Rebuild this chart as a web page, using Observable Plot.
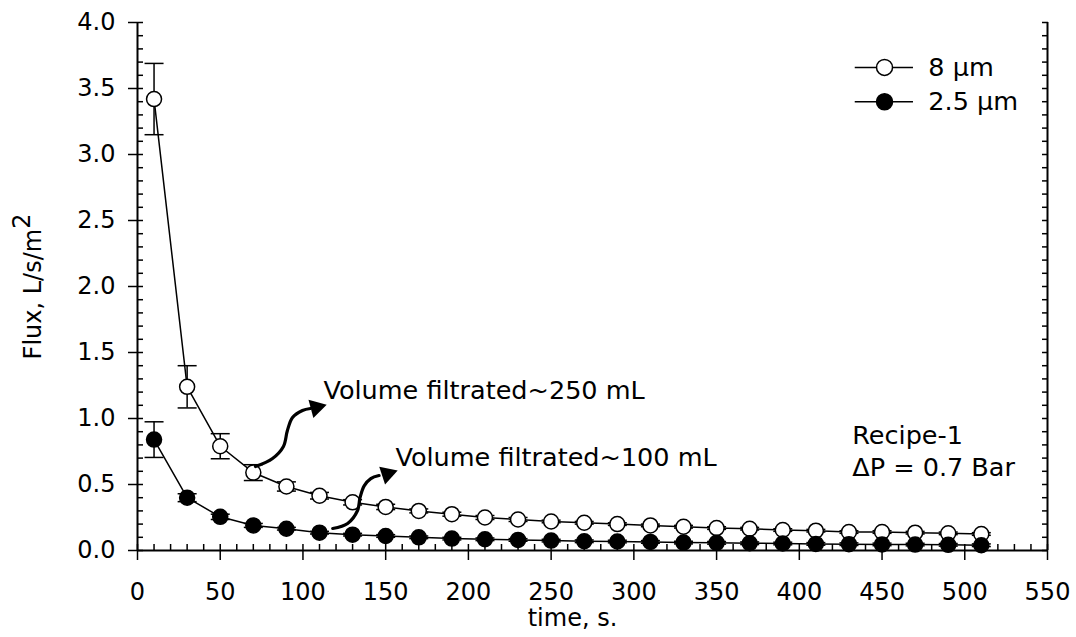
<!DOCTYPE html>
<html><head><meta charset="utf-8">
<script src="https://cdn.jsdelivr.net/npm/d3@7"></script>
<script src="https://cdn.jsdelivr.net/npm/@observablehq/plot@0.6"></script>
<style>body{margin:0;background:#fff} svg{font-family:"DejaVu Sans"}</style>
</head><body><div id="chart"></div>
<script>
const times = [10,30,50,70,90,110,130,150,170,190,210,230,250,270,290,310,330,350,370,390,410,430,450,470,490,510];
const flux8 = [3.42,1.24,0.79,0.59,0.485,0.415,0.365,0.33,0.30,0.275,0.25,0.235,0.22,0.21,0.20,0.19,0.18,0.17,0.165,0.155,0.15,0.14,0.14,0.135,0.13,0.125];
const err8 = [0.27,0.16,0.095,0.06,0.035,0.025,0.02,0.02,0.015,0.015,0.015,0.015,0.01,0.01,0.01,0.01,0.01,0.01,0.01,0.01,0.01,0.01,0.01,0.01,0.01,0.01];
const flux25 = [0.84,0.40,0.255,0.19,0.165,0.135,0.12,0.11,0.10,0.09,0.085,0.08,0.075,0.07,0.068,0.065,0.06,0.058,0.055,0.053,0.05,0.048,0.046,0.045,0.043,0.04];
const err25 = [0.135,0.03,0.02,0.015,0.01,0.01,0.01,0.01,0.01,0.01,0.01,0.01,0.01,0.01,0.01,0.01,0.01,0.01,0.01,0.01,0.01,0.01,0.01,0.01,0.01,0.01];
const seriesNames = ["8 µm","2.5 µm"];
const seriesFill = ["white","black"];
const xMajor = [0,50,100,150,200,250,300,350,400,450,500,550];
const yMajor = [0,0.5,1,1.5,2,2.5,3,3.5,4];
const xMinor = d3.range(0,551,10);
const yMinor = d3.range(0,41).map(d=>d/10);
// annotation arrows (data coordinates)
const arrow1X = [71.3,81.6,88.2,90.6,93.7,99.7,104.5];
const arrow1Y = [0.636,0.697,0.788,0.909,1.008,1.061,1.076];
const arrow2X = [118,127,133,134.5,137,141,146];
const arrow2Y = [0.167,0.205,0.303,0.40,0.49,0.545,0.568];
const headX = [108,151];
const headY = [1.083,0.58];
const headRot = [75,72];
const notes = ["Volume filtrated~250 mL","Volume filtrated~100 mL","Recipe-1","\u0394P = 0.7 Bar"];
const noteX = [112.4,155.9,432,432];
const noteY = [1.21,0.70,0.87,0.63];
const legendY = [3.66,3.40];

const rows = [];
times.forEach((t,i)=>{
  rows.push({s:0,t,f:flux8[i],e:err8[i]});
  rows.push({s:1,t,f:flux25[i],e:err25[i]});
});
const capSymbol = {draw(ctx,size){const w=Math.sqrt(size/Math.PI);ctx.moveTo(-w,0);ctx.lineTo(w,0);}};
const a1 = arrow1X.map((x,i)=>({x,y:arrow1Y[i]}));
const a2 = arrow2X.map((x,i)=>({x,y:arrow2Y[i]}));
const heads = headX.map((x,i)=>({x,y:headY[i],r:headRot[i]}));
const noteRows = notes.map((t,i)=>({t,x:noteX[i],y:noteY[i]}));
const leg = seriesNames.map((n,i)=>({n,i,y:legendY[i],fill:seriesFill[i]}));

const chart = Plot.plot({
  width:1076, height:637,
  marginLeft:137, marginRight:29, marginTop:22, marginBottom:87,
  style:{fontFamily:"DejaVu Sans", fontSize:"24px", color:"black", background:"white", overflow:"visible"},
  x:{domain:[0,550]},
  y:{domain:[0,4]},
  marks:[
    Plot.axisX(xMajor,{tickSize:10, tickPadding:22, label:null, tickFormat:d=>String(d), strokeWidth:1.5}),
    Plot.axisX(xMinor,{tickSize:-6, text:null, label:null, strokeWidth:1.5}),
    Plot.axisY(yMajor,{anchor:"left", tickSize:9, tickPadding:13, label:null, tickFormat:d=>d.toFixed(1), strokeWidth:1.5}),
    Plot.axisY(yMinor,{anchor:"left", tickSize:-6, text:null, label:null, strokeWidth:1.5}),
    Plot.axisY(yMinor,{anchor:"right", tickSize:-6, text:null, label:null, strokeWidth:1.5}),
    Plot.ruleX([0,550],{stroke:"black", strokeWidth:2}),
    Plot.ruleY([0],{stroke:"black", strokeWidth:2}),
    Plot.line(rows,{x:"t", y:"f", z:"s", stroke:"black", strokeWidth:1.5}),
    Plot.ruleX(rows,{x:"t", y1:d=>d.f-d.e, y2:d=>d.f+d.e, stroke:"black", strokeWidth:1.5}),
    Plot.dot(rows,{x:"t", y:d=>d.f-d.e, symbol:capSymbol, r:9.5, fill:"none", stroke:"black", strokeWidth:1.5}),
    Plot.dot(rows,{x:"t", y:d=>d.f+d.e, symbol:capSymbol, r:9.5, fill:"none", stroke:"black", strokeWidth:1.5}),
    Plot.dot(rows,{x:"t", y:"f", r:7.5, fill:d=>seriesFill[d.s], stroke:"black", strokeWidth:1.5}),
    Plot.line(a1,{x:"x", y:"y", curve:"catmull-rom", stroke:"black", strokeWidth:3.2}),
    Plot.line(a2,{x:"x", y:"y", curve:"catmull-rom", stroke:"black", strokeWidth:3.2}),
    Plot.dot(heads,{x:"x", y:"y", symbol:"triangle2", r:9, rotate:"r", fill:"black", stroke:"none"}),
    Plot.text(noteRows,{x:"x", y:"y", text:"t", textAnchor:"start", fontSize:25.5, fill:"black"}),
    // legend
    Plot.ruleY(leg,{y:"y", x1:433.8, x2:469, stroke:"black", strokeWidth:1.5}),
    Plot.dot(leg,{x:451.5, y:"y", r:8, fill:"fill", stroke:"black", strokeWidth:1.5}),
    Plot.text(leg,{x:478, y:"y", text:"n", textAnchor:"start", fontSize:25.5, fill:"black"}),
    // axis titles
    Plot.text(["time, s."],{frameAnchor:"bottom", dx:-20, dy:75, fontSize:24, fill:"black"}),
    Plot.text(["Flux, L/s/m"],{frameAnchor:"left", textAnchor:"middle", dx:-104, rotate:-90, fontSize:24, fill:"black"})
  ]
});
d3.select(chart).selectAll("text").filter(function(){return this.textContent==="Flux, L/s/m";})
  .append("tspan").attr("dy","-0.45em").text("2");
document.getElementById("chart").appendChild(chart);
</script>
</body></html>
